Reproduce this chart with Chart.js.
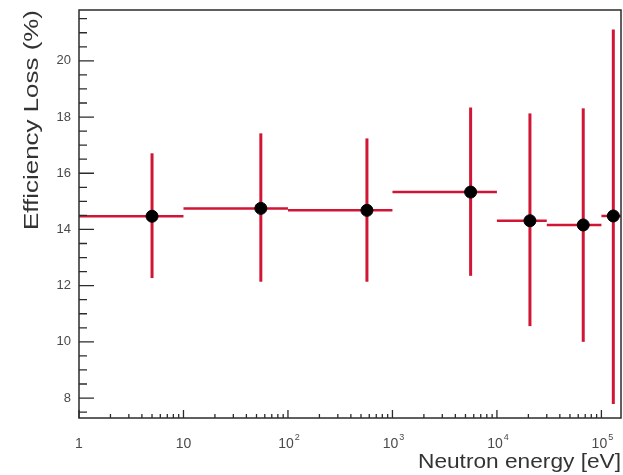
<!DOCTYPE html>
<html>
<head>
<meta charset="utf-8">
<script src="https://cdn.jsdelivr.net/npm/chart.js@4.4.0/dist/chart.umd.min.js"></script>
<style>
  html, body { margin: 0; padding: 0; background: #fff; }
  canvas { display: block; }
</style>
</head>
<body>
<canvas id="chart" width="623" height="475"></canvas>
<script>
// efficiency loss per neutron energy bin
const energy = [5, 55, 570, 5600, 20700, 67000, 130000];
const binLow = [1, 10, 100, 1000, 10000, 30000, 100000];
const binHigh = [10, 100, 1000, 10000, 30000, 100000, 200000];
const loss = [14.47, 14.75, 14.68, 15.33, 14.31, 14.16, 14.48];
const lossHigh = [16.71, 17.42, 17.24, 18.34, 18.13, 18.31, 21.12];
const lossLow = [12.27, 12.14, 12.14, 12.35, 10.56, 10.0, 7.79];

const xDecades = [1, 10, 100, 1000, 10000, 100000];
const xExponents = [null, null, "2", "3", "4", "5"];
const yMajor = [8, 10, 12, 14, 16, 18, 20];

const RED = "rgb(208,22,52)";
const AXIS = "#2b2b2b";
const FONT = "'Liberation Sans', Arial, sans-serif";

const datasets = [];
energy.forEach((e, i) => {
    datasets.push({
        type: "line",
        data: [{ x: binLow[i], y: loss[i] }, { x: binHigh[i], y: loss[i] }],
        borderColor: RED,
        borderWidth: 2.5,
        pointRadius: 0,
    });
    datasets.push({
        type: "line",
        data: [{ x: e, y: lossLow[i] }, { x: e, y: lossHigh[i] }],
        borderColor: RED,
        borderWidth: 3,
        pointRadius: 0,
    });
});
datasets.push({
    type: "scatter",
    order: -1,
    data: energy.map((e, i) => ({ x: e, y: loss[i] })),
    backgroundColor: "#000",
    borderColor: "#000",
    pointRadius: 6,
    clip: false,
});

// ROOT-style frame, inward ticks and labels
const frameAxes = {
    id: "frameAxes",
    afterDraw(chart) {
        const { ctx, chartArea: a, scales } = chart;
        const xs = scales.x, ys = scales.y;
        ctx.save();
        ctx.strokeStyle = AXIS;
        ctx.lineWidth = 1.5;
        ctx.strokeRect(a.left, a.top, a.right - a.left, a.bottom - a.top);

        ctx.lineWidth = 1.3;
        ctx.beginPath();
        // y ticks every 0.5, long ones on even values
        for (let v = 7.5; v <= ys.max + 1e-9; v += 0.5) {
            const py = ys.getPixelForValue(v);
            const len = yMajor.includes(v) ? 15 : 8;
            ctx.moveTo(a.left, py);
            ctx.lineTo(a.left + len, py);
        }
        // x ticks per decade with minors
        xDecades.forEach(d => {
            for (let m = 1; m <= 9; m++) {
                const v = d * m;
                if (v > xs.max) break;
                const px = xs.getPixelForValue(v);
                const len = m === 1 ? 8 : 4;
                ctx.moveTo(px, a.bottom);
                ctx.lineTo(px, a.bottom - len);
            }
        });
        ctx.stroke();

        ctx.fillStyle = "#4a4a4a";
        ctx.font = "13px " + FONT;
        ctx.textAlign = "right";
        ctx.textBaseline = "middle";
        yMajor.forEach(v => {
            ctx.fillText(String(v), a.left - 8, ys.getPixelForValue(v));
        });

        ctx.textBaseline = "alphabetic";
        xDecades.forEach((d, i) => {
            const px = xs.getPixelForValue(d);
            const base = a.bottom + 30;
            ctx.font = "14px " + FONT;
            if (!xExponents[i]) {
                ctx.textAlign = "center";
                ctx.fillText(String(d), px, base);
            } else {
                ctx.textAlign = "center";
                ctx.fillText("10", px - 2, base);
                const w = ctx.measureText("10").width;
                ctx.font = "9px " + FONT;
                ctx.textAlign = "left";
                ctx.fillText(xExponents[i], px - 2 + w / 2 + 1, base - 8);
            }
        });

        ctx.fillStyle = "#333";
        ctx.font = "21px " + FONT;
        ctx.textBaseline = "middle";
        ctx.textAlign = "right";
        const xTitle = "Neutron energy [eV]";
        const xw = ctx.measureText(xTitle).width;
        ctx.save();
        ctx.translate(a.right, 462);
        ctx.scale(203 / xw, 1);
        ctx.fillText(xTitle, 0, 0);
        ctx.restore();

        const yTitle = "Efficiency Loss (%)";
        const yw = ctx.measureText(yTitle).width;
        ctx.translate(32, a.top);
        ctx.rotate(-Math.PI / 2);
        ctx.scale(220 / yw, 1);
        ctx.fillText(yTitle, 0, 0);
        ctx.restore();
    },
};

new Chart(document.getElementById("chart").getContext("2d"), {
    data: { datasets },
    options: {
        responsive: false,
        animation: false,
        devicePixelRatio: 1,
        layout: { autoPadding: false, padding: { left: 79, right: 2, top: 10, bottom: 57 } },
        plugins: { legend: { display: false }, tooltip: { enabled: false } },
        scales: {
            x: { type: "logarithmic", min: 1, max: 154000, display: false },
            y: { type: "linear", min: 7.29, max: 21.81, display: false },
        },
    },
    plugins: [frameAxes],
});
</script>
</body>
</html>
